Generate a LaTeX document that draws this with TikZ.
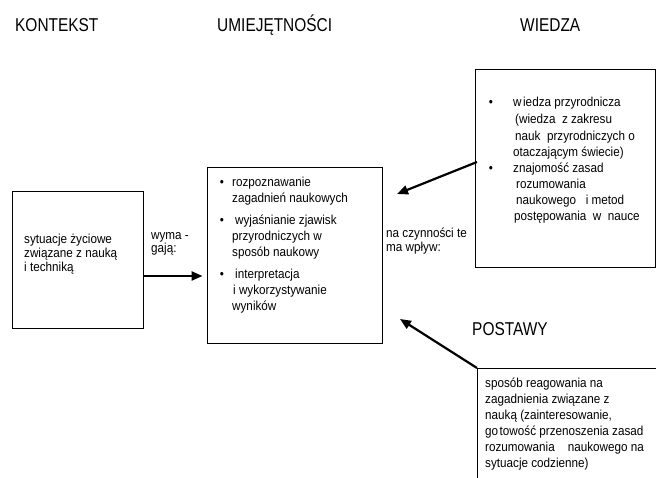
\documentclass[tikz,border=0pt]{standalone}
\usepackage{fontspec}
\setmainfont{Liberation Sans}[FakeStretch=0.9]
\newfontfamily\headfont{Liberation Sans}[FakeStretch=0.83]
\usetikzlibrary{arrows.meta}
\begin{document}
\begin{tikzpicture}[x=1pt,y=-1pt,
  txt/.style={anchor=base west,inner sep=0pt,font=\fontsize{13}{15}\selectfont},
  bul/.style={anchor=base,inner sep=0pt,font=\fontsize{13}{15}\selectfont},
  head/.style={anchor=base west,inner sep=0pt,font=\headfont\fontsize{18.6}{20}\selectfont},
  box/.style={draw,line width=0.9pt,inner sep=0pt},
  bigarrow/.style={line width=2.2pt,-{Triangle[length=11pt,width=9pt]}}]
\useasboundingbox (0,0) rectangle (656,478);
% headings
\node[head] (hk) at (15,32) {KONTEKST};
\node[head] (hu) at (217,32) {UMIEJĘTNOŚCI};
\node[head] (hw) at (520,32) {WIEDZA};
\node[head] (hp) at (472,335) {POSTAWY};
% boxes
\node[box,minimum width=131pt,minimum height=137pt] (ctx) at (77.5,259.5) {};
\node[box,minimum width=175pt,minimum height=176pt] (skl) at (294.5,255) {};
\node[box,minimum width=180pt,minimum height=198pt] (wie) at (565,168) {};
\coordinate (pc) at (477,368);
\coordinate (pr) at (656,368);
\coordinate (pb) at (477,478);
\draw[line width=0.9pt] (pr) -- (pc) -- (pb);
% context text
\node[txt] (c1) at (24,244) {sytuacje życiowe};
\node[txt] (c2) at (24,258) {związane z nauką};
\node[txt] (c3) at (24,272) {i techniką};
\node[txt] (w1) at (151,240) {wyma -};
\node[txt] (w2) at (151,253) {gają:};
% skills text
\node[bul] (sb1) at (222,187) {•};
\node[bul] (sb2) at (222,225) {•};
\node[bul] (sb3) at (222,279) {•};
\node[txt] (s1) at (232,187) {rozpoznawanie};
\node[txt] (s2) at (232,203) {zagadnień naukowych};
\node[txt] (s3) at (235,225) {wyjaśnianie zjawisk};
\node[txt] (s4) at (232,241) {przyrodniczych w};
\node[txt] (s5) at (232,257) {sposób naukowy};
\node[txt] (s6) at (235,279) {interpretacja};
\node[txt] (s7) at (233,295) {i wykorzystywanie};
\node[txt] (s8) at (232,311) {wyników};
% influence text
\node[txt] (n1) at (386,238) {na czynności te};
\node[txt] (n2) at (386,252) {ma wpływ:};
% knowledge text
\node[bul] (kb1) at (491,107) {•};
\node[bul] (kb2) at (491,173) {•};
\node[txt] (k1) at (513,107) {w\kern1.5pt iedza przyrodnicza};
\node[txt] (k2) at (515,124) {(wiedza\ \ z zakresu};
\node[txt] (k3) at (515,141) {nauk\ \ przyrodniczych o};
\node[txt] (k4) at (513,157) {otaczającym świecie)};
\node[txt] (k5) at (513,173) {znajomość zasad};
\node[txt] (k6) at (516,189) {rozumowania};
\node[txt] (k7) at (516,205) {naukowego\ \ \ i metod};
\node[txt] (k8) at (514,221) {postępowania\ \ w\ \ nauce};
% attitudes text
\node[txt] (p1) at (485,387) {sposób reagowania na};
\node[txt] (p2) at (485,403) {zagadnienia związane z};
\node[txt] (p3) at (485,419) {nauką (zainteresowanie,};
\node[txt] (p4) at (485,435) {go\kern1.5pt towość przenoszenia zasad};
\node[txt] (p5) at (485,451) {rozumowania\ \ \ \ naukowego na};
\node[txt] (p6) at (485,467) {sytuacje codzienne)};
% arrows
\draw[bigarrow,shorten >=4pt] (ctx.east |- 0,276) -- (skl.west |- 0,276);
\coordinate (wt) at (397,194);
\coordinate (ws) at (477,162);
\draw[bigarrow] (ws) -- (wt);
\coordinate (pt) at (400,319);
\draw[bigarrow] (pc) -- (pt);
\end{tikzpicture}
\end{document}
